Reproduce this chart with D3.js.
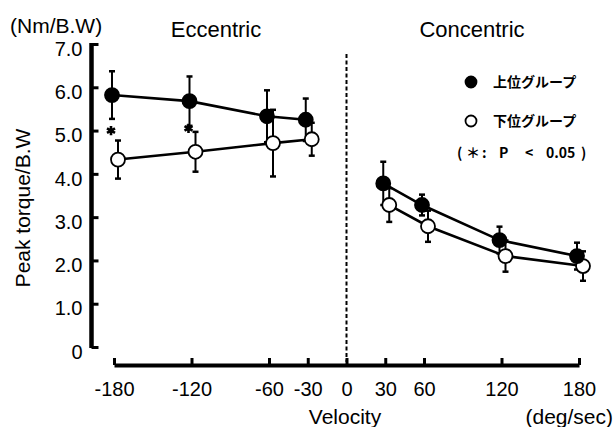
<!DOCTYPE html>
<html lang="ja">
<head>
    <meta charset="UTF-8">
    <title>Peak torque / B.W vs Velocity</title>
    <script src="https://d3js.org/d3.v7.min.js"></script>
    <style>
        body { margin: 0; background: #fff; }
        svg text { font-family: "Liberation Sans", Arial, sans-serif; fill: #000; }
        .axis path, .axis line { stroke: #000; }
        .legend text { font-family: "Noto Sans CJK JP", sans-serif; font-weight: 700; font-size: 14px; }
    </style>
</head>
<body>
    <svg width="615" height="427"></svg>
    <script>
        // data: velocity (deg/sec), mean and SD for each group
        const eccVelocity = [-180, -120, -60, -30];
        const conVelocity = [30, 60, 120, 180];
        const upperEccMean = [5.82, 5.68, 5.33, 5.25];
        const upperEccSD = [0.55, 0.57, 0.60, 0.49];
        const lowerEccMean = [4.33, 4.51, 4.71, 4.80];
        const lowerEccSD = [0.44, 0.46, 0.77, 0.38];
        const upperConMean = [3.78, 3.28, 2.47, 2.10];
        const upperConSD = [0.50, 0.24, 0.31, 0.31];
        const lowerConMean = [3.28, 2.79, 2.10, 1.87];
        const lowerConSD = [0.39, 0.36, 0.36, 0.34];
        const sigVelocity = [-180, -120];
        const sigLevel = [5.0, 5.05];
        const xTicks = [-180, -120, -60, -30, 0, 30, 60, 120, 180];
        const yTicks = [0, 1, 2, 3, 4, 5, 6, 7];
        const legendLabels = ['上位グループ', '下位グループ'];
        const noteParts = ['(', '＊', ':', 'P', '<', '0.05', ')'];

        const svg = d3.select('svg');
        const x = d3.scaleLinear().domain([-180, 180]).range([114, 579]);
        const y = d3.scaleLinear().domain([0, 7]).range([347, 44]);

        // y axis (ticks point inward)
        const yAxis = svg.append('g')
            .attr('class', 'axis')
            .attr('transform', 'translate(91.5,0)')
            .call(d3.axisLeft(y).tickValues(yTicks)
                .tickSizeInner(-7).tickSizeOuter(0).tickPadding(9)
                .tickFormat(d => d === 0 ? '0' : d.toFixed(1)));
        yAxis.select('.domain').attr('stroke-width', 4.5).attr('d', `M0,${y(7) - 1}V${y(0) + 1}`);
        yAxis.selectAll('.tick line').attr('stroke-width', 3);
        yAxis.selectAll('.tick text').attr('font-size', 20).attr('dy', '0.56em');
        yAxis.attr('font-family', null);

        // x axis
        const xAxis = svg.append('g')
            .attr('class', 'axis')
            .attr('transform', 'translate(0,365)')
            .call(d3.axisBottom(x).tickValues(xTicks)
                .tickSizeInner(-7).tickSizeOuter(0).tickPadding(17)
                .tickFormat(d => d));
        xAxis.select('.domain').attr('stroke-width', 4);
        xAxis.selectAll('.tick line').attr('stroke-width', 3);
        xAxis.selectAll('.tick text').attr('font-size', 20);
        xAxis.attr('font-family', null);

        // dashed divider at 0
        svg.append('line')
            .attr('x1', x(0)).attr('x2', x(0))
            .attr('y1', 54).attr('y2', 362)
            .attr('stroke', '#000').attr('stroke-width', 2)
            .attr('stroke-dasharray', '4,2.5');

        // titles
        svg.append('text').attr('x', 10).attr('y', 33).attr('font-size', 21).text('(Nm/B.W)');
        svg.append('text').attr('x', 216).attr('y', 37).attr('font-size', 22)
            .attr('text-anchor', 'middle').text('Eccentric');
        svg.append('text').attr('x', 472).attr('y', 37).attr('font-size', 22)
            .attr('text-anchor', 'middle').text('Concentric');
        svg.append('text').attr('transform', 'translate(30,208) rotate(-90)')
            .attr('font-size', 21).attr('text-anchor', 'middle').text('Peak torque/B.W');
        svg.append('text').attr('x', 345).attr('y', 424).attr('font-size', 21)
            .attr('text-anchor', 'middle').text('Velocity');
        svg.append('text').attr('x', 613).attr('y', 424).attr('font-size', 21)
            .attr('text-anchor', 'end').text('(deg/sec)');

        // build series
        const zip = (vs, ms, sds) => vs.map((v, i) => ({ v, m: ms[i], sd: sds[i] }));
        const series = [
            { fill: '#000', dx: -2, parts: [zip(eccVelocity, upperEccMean, upperEccSD), zip(conVelocity, upperConMean, upperConSD)] },
            { fill: '#fff', dx: 4, parts: [zip(eccVelocity, lowerEccMean, lowerEccSD), zip(conVelocity, lowerConMean, lowerConSD)] }
        ];

        const line = d3.line().x(d => x(d.v)).y(d => y(d.m));

        // error bars
        series.forEach(s => {
            const pts = s.parts.flat();
            const g = svg.append('g').attr('transform', `translate(${s.dx},0)`);
            g.selectAll('line.err').data(pts).enter().append('line')
                .attr('x1', d => x(d.v)).attr('x2', d => x(d.v))
                .attr('y1', d => y(d.m - d.sd)).attr('y2', d => y(d.m + d.sd))
                .attr('stroke', '#000').attr('stroke-width', 2);
            g.selectAll('line.capTop').data(pts).enter().append('line')
                .attr('x1', d => x(d.v) - 3).attr('x2', d => x(d.v) + 3)
                .attr('y1', d => y(d.m + d.sd)).attr('y2', d => y(d.m + d.sd))
                .attr('stroke', '#000').attr('stroke-width', 2.5);
            g.selectAll('line.capBot').data(pts).enter().append('line')
                .attr('x1', d => x(d.v) - 3).attr('x2', d => x(d.v) + 3)
                .attr('y1', d => y(d.m - d.sd)).attr('y2', d => y(d.m - d.sd))
                .attr('stroke', '#000').attr('stroke-width', 2.5);
        });

        // lines and markers
        series.forEach(s => {
            const g = svg.append('g').attr('transform', `translate(${s.dx},0)`);
            s.parts.forEach(p => {
                g.append('path').datum(p).attr('d', line)
                    .attr('fill', 'none').attr('stroke', '#000').attr('stroke-width', 2.6);
            });
        });
        series.slice().reverse().forEach(s => {
            const g = svg.append('g').attr('transform', `translate(${s.dx},0)`);
            g.selectAll('circle').data(s.parts.flat()).enter().append('circle')
                .attr('cx', d => x(d.v)).attr('cy', d => y(d.m)).attr('r', 7)
                .attr('fill', s.fill).attr('stroke', '#000').attr('stroke-width', 1.8);
        });

        // significance marks
        svg.selectAll('path.sig').data(sigVelocity).enter().append('path')
            .attr('transform', (d, i) => `translate(${x(d) - 3},${y(sigLevel[i])})`)
            .attr('d', d3.symbol(d3.symbolAsterisk, 60))
            .attr('stroke', '#000').attr('stroke-width', 2.6).attr('fill', 'none');

        // legend
        const legend = svg.append('g').attr('class', 'legend');
        legendLabels.forEach((t, i) => {
            const ly = 82 + i * 39;
            legend.append('circle').attr('cx', 471).attr('cy', ly).attr('r', 5.5)
                .attr('fill', i === 0 ? '#000' : '#fff').attr('stroke', '#000').attr('stroke-width', 1.8);
            legend.append('text').attr('x', 493).attr('y', ly).attr('dy', '0.36em').text(t);
        });
        const noteX = [457, 466, 482, 499, 525, 546, 581];
        legend.selectAll('text.note').data(noteParts).enter().append('text')
            .attr('class', 'note')
            .attr('x', (d, i) => noteX[i]).attr('y', 153).attr('dy', '0.36em')
            .text(d => d);
    </script>
</body>
</html>
